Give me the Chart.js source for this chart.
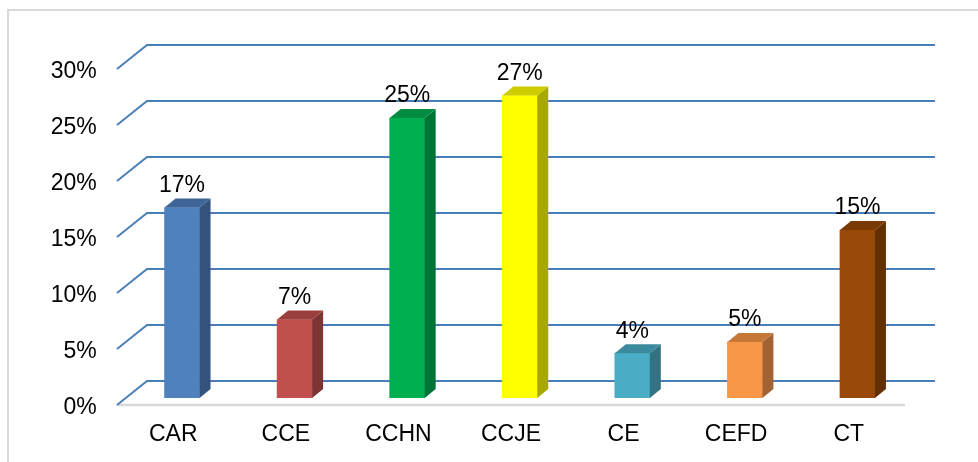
<!DOCTYPE html>
<html>
<head>
<meta charset="utf-8">
<script src="https://cdn.jsdelivr.net/npm/chart.js@4/dist/chart.umd.min.js"></script>
<style>
  html, body { margin: 0; padding: 0; background: #ffffff; }
  #wrap { position: relative; width: 978px; height: 462px; }
  canvas { display: block; }
  #frame { position: absolute; left: 7px; top: 9px; right: -2px; bottom: -2px; border: 2px solid #d9d9d9; pointer-events: none; }
</style>
</head>
<body>
<div id="wrap">
  <canvas id="c" width="978" height="462"></canvas>
  <div id="frame"></div>
</div>
<script>
// ---- data ----
const categories = ["CAR", "CCE", "CCHN", "CCJE", "CE", "CEFD", "CT"];
const percentages = [17, 7, 25, 27, 4, 5, 15];
const yTickValues = [0, 5, 10, 15, 20, 25, 30];

// ---- styles ----
const frontColors = ["#4F81BD", "#C0504D", "#00B050", "#FFFF00", "#4BACC6", "#F79646", "#984807"];
const topColors   = ["#3E6597", "#9A3F3D", "#008C40", "#CCCC00", "#3B8A9E", "#C57838", "#7A3A06"];
const sideColors  = ["#33537C", "#7E3432", "#007434", "#A8A800", "#327283", "#A36231", "#633004"];

const FONT = "'Liberation Sans', Arial, sans-serif";
const DX = 11, DY = 9;          // bar depth offset
const BACK_DX = 21.25, BACK_DY = 17;  // back wall offset from bar plane
const FRONT_DX = 8.75, FRONT_DY = 7;  // front plane offset from bar plane

const gridPlugin = {
  id: 'grid3d',
  beforeDatasetsDraw(chart) {
    const ctx = chart.ctx;
    const xs = chart.scales.x, ys = chart.scales.y;
    ctx.save();
    // floor front edge
    const y0 = ys.getPixelForValue(0);
    ctx.strokeStyle = '#d9d9d9';
    ctx.lineWidth = 2.5;
    ctx.beginPath();
    ctx.moveTo(xs.left - FRONT_DX, y0 + FRONT_DY);
    ctx.lineTo(xs.right - FRONT_DX, y0 + FRONT_DY);
    ctx.stroke();
    // gridlines
    ctx.strokeStyle = '#4A7EBB';
    ctx.lineWidth = 2;
    ctx.lineJoin = 'miter';
    yTickValues.forEach(v => {
      const y = ys.getPixelForValue(v);
      ctx.beginPath();
      ctx.moveTo(xs.left - FRONT_DX, y + FRONT_DY);
      ctx.lineTo(xs.left + BACK_DX, y - BACK_DY);
      ctx.lineTo(xs.right + BACK_DX, y - BACK_DY);
      ctx.stroke();
    });
    ctx.restore();
  },
  afterDatasetsDraw(chart) {
    const ctx = chart.ctx;
    const meta = chart.getDatasetMeta(0);
    ctx.save();
    meta.data.forEach((bar, i) => {
      const p = bar.getProps(['x', 'y', 'base', 'width'], true);
      const l = p.x - p.width / 2, r = p.x + p.width / 2;
      // side face
      ctx.fillStyle = sideColors[i];
      ctx.beginPath();
      ctx.moveTo(r, p.y);
      ctx.lineTo(r + DX, p.y - DY);
      ctx.lineTo(r + DX, p.base - DY);
      ctx.lineTo(r, p.base);
      ctx.closePath();
      ctx.fill();
      // top face
      ctx.fillStyle = topColors[i];
      ctx.beginPath();
      ctx.moveTo(l, p.y);
      ctx.lineTo(l + DX, p.y - DY);
      ctx.lineTo(r + DX, p.y - DY);
      ctx.lineTo(r, p.y);
      ctx.closePath();
      ctx.fill();
      // value label
      ctx.fillStyle = '#000000';
      ctx.font = '23px ' + FONT;
      ctx.textAlign = 'center';
      ctx.textBaseline = 'middle';
      ctx.fillText(percentages[i] + '%', p.x, p.y - 22);
    });
    ctx.restore();
  }
};

new Chart(document.getElementById('c'), {
  type: 'bar',
  data: {
    labels: categories,
    datasets: [{
      data: percentages,
      backgroundColor: frontColors,
      borderWidth: 0,
      barThickness: 35
    }]
  },
  options: {
    responsive: false,
    animation: false,
    devicePixelRatio: 1,
    layout: { padding: { left: 0, top: 62, right: 64.25, bottom: 0 } },
    plugins: { legend: { display: false }, tooltip: { enabled: false } },
    scales: {
      x: {
        grid: { display: false, drawTicks: false },
        border: { display: false },
        ticks: { color: '#000000', font: { family: FONT, size: 23 }, padding: 23, labelOffset: -8.75, maxRotation: 0 },
        afterFit: s => { s.height = 64; }
      },
      y: {
        min: 0, max: 30,
        grid: { display: false, drawTicks: false },
        border: { display: false },
        ticks: {
          stepSize: 5,
          color: '#000000',
          font: { family: FONT, size: 23 },
          padding: 29,
          labelOffset: 10,
          callback: v => v + '%'
        },
        afterFit: s => { s.width = 125.75; }
      }
    }
  },
  plugins: [gridPlugin]
});
</script>
</body>
</html>
